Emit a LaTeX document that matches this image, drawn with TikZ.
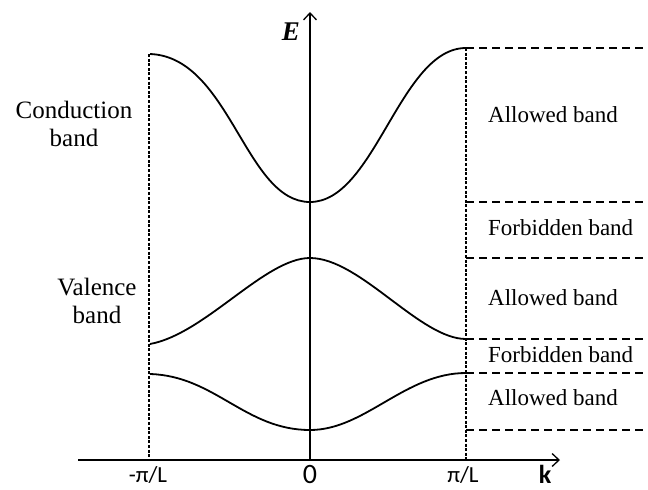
\documentclass[tikz,border=0pt]{standalone}
\usepackage{fontspec}
\setmainfont{Liberation Serif}
\newfontfamily\calib{Carlito}
\usetikzlibrary{arrows.meta}
\begin{document}
\begin{tikzpicture}[x=1pt,y=-1pt,
  axis/.style={line width=1.3pt, -{Straight Barb[length=7pt,width=13pt,line width=1.3pt]}},
  band/.style={line width=1.8pt},
  zone/.style={line width=1.3pt, dash pattern=on 3pt off 1.6pt},
  level/.style={line width=1.2pt, dash pattern=on 8pt off 5pt},
  lbl/.style={font=\fontsize{25}{28}\selectfont, align=center, inner sep=0pt},
  rlbl/.style={font=\fontsize{23}{26}\selectfont, anchor=west, inner sep=0pt},
  tick/.style={font=\calib\fontsize{23}{25}\selectfont, inner sep=0pt, anchor=base}]
\useasboundingbox (0,0) rectangle (648,490);
% axes
\coordinate (xs) at (78,460);
\coordinate (xe) at (560,460);
\coordinate (ys) at (310,460);
\coordinate (ye) at (310,12);
\draw[axis] (xs) -- (xe);
\draw[axis] (ys) -- (ye);
% zone boundaries
\coordinate (zl0) at (149,54);
\coordinate (zl1) at (149,460);
\coordinate (zr0) at (466,48);
\coordinate (zr1) at (466,460);
\draw[zone] (zl0) -- (zl1);
\draw[zone] (zr0) -- (zr1);
% band curves
\coordinate (c1) at (150,54);
\coordinate (c0) at (310,202);
\coordinate (c2) at (466,48);
\coordinate (v1) at (150,344);
\coordinate (v0) at (310,258);
\coordinate (v2) at (466,339);
\coordinate (l1) at (150,374);
\coordinate (l0) at (310,430);
\coordinate (l2) at (466,373);
\draw[band] (c1) .. controls (230,57) and (245,202) .. (c0)
  .. controls (375,202) and (400,48) .. (c2);
\draw[band] (v1) .. controls (205,334) and (265,258) .. (v0)
  .. controls (360,258) and (420,339) .. (v2);
\draw[band] (l1) .. controls (215,376) and (245,430) .. (l0)
  .. controls (365,430) and (405,373) .. (l2);
% band edges
\foreach \n/\y in {a/48,b/202,c/258,d/339,e/373,f/430}{
  \coordinate (h\n0) at (466,\y);
  \coordinate (h\n1) at (646,\y);
  \draw[level] (h\n0) -- (h\n1);
}
% labels
\node[lbl] (cb) at (74,124) {Conduction\\band};
\node[lbl] (vb) at (97,301) {Valence\\band};
\node[rlbl] (r1) at (488,115) {Allowed band};
\node[rlbl] (r2) at (488,228) {Forbidden band};
\node[rlbl] (r3) at (488,298) {Allowed band};
\node[rlbl] (r4) at (488,355) {Forbidden band};
\node[rlbl] (r5) at (488,398) {Allowed band};
\node[font=\fontsize{27}{30}\selectfont\bfseries\itshape, inner sep=0pt] (E) at (291,32) {E};
\node[tick] (tm) at (148,482) {-π/L};
\node[tick, font=\calib\fontsize{28}{30}\selectfont] (t0) at (310,483) {0};
\node[tick] (tp) at (463,482) {π/L};
\node[tick, font=\calib\fontsize{26}{28}\selectfont\bfseries] (k) at (545,483) {k};
\end{tikzpicture}
\end{document}
